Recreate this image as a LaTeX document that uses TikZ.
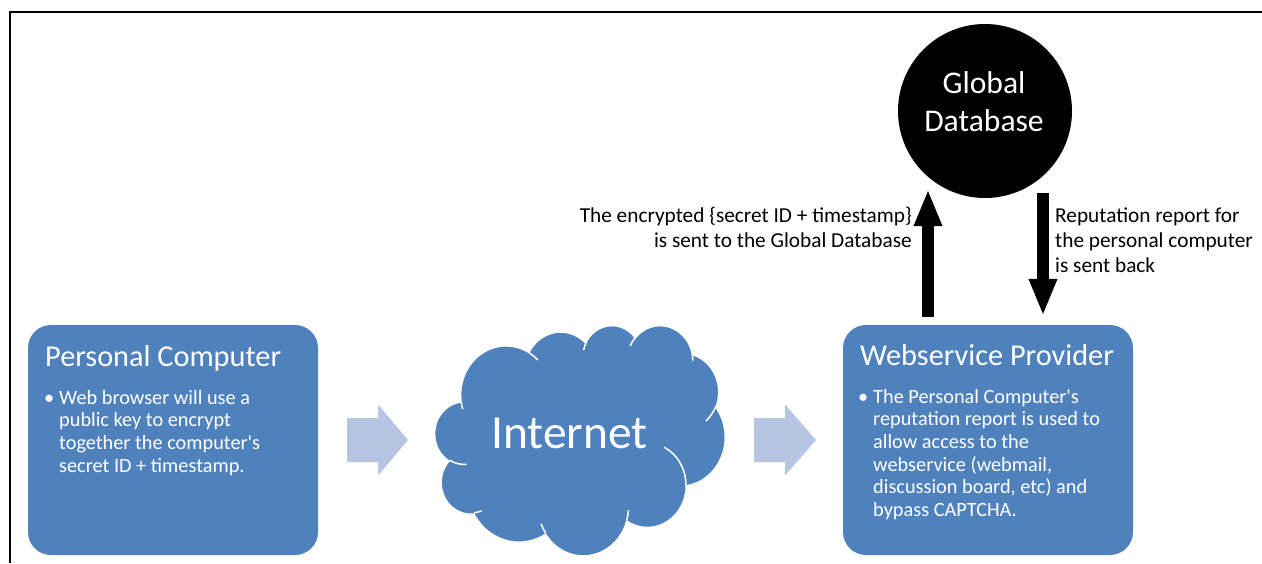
\documentclass[tikz,border=0pt]{standalone}
\usepackage{fontspec}
\setmainfont{Carlito}
\usetikzlibrary{arrows.meta}
\definecolor{accent}{RGB}{79,129,189}
\definecolor{lightflow}{RGB}{181,197,226}

\begin{document}
\begin{tikzpicture}[x=1pt,y=-1pt,
  panel/.style={fill=accent, draw=none, rounded corners=23pt,
    minimum width=290pt, minimum height=230pt, inner sep=0pt},
  paneltitle/.style={anchor=base west, inner sep=0pt, text=white,
    font=\fontsize{30.3}{34}\selectfont},
  paneltext/.style={anchor=north west, inner sep=0pt, text=white, align=left,
    font=\fontsize{20.3}{22.7}\selectfont},
  bulletmark/.style={anchor=base west, inner sep=0pt, text=white,
    font=\fontsize{20.3}{22.7}\selectfont},
  note/.style={inner sep=0pt, font=\fontsize{21.3}{25}\selectfont},
  blockarrow/.style={fill=lightflow, draw=none},
  bigarrow/.style={line width=12pt, -{Triangle[length=37pt,width=26pt]}},
  % elliptical arc given by radii, start angle and sweep measured as
  % direction angles (converted to the parametric angles TikZ expects)
  ooarc/.style n args={4}{insert path={
    arc[x radius=#1, y radius=#2,
        start angle={atan2((#1)*sin(#3),(#2)*cos(#3))},
        delta angle={mod(atan2((#1)*sin(#3+#4),(#2)*cos(#3+#4))
                     -atan2((#1)*sin(#3),(#2)*cos(#3))+720,360)}]}}
]
\useasboundingbox (0,0) rectangle (1262,563);

% frame edges
\draw[line width=2.5pt] (1262,12) -- (10,12) -- (10,563);

% left panel
\node[panel] (pc) at (173,440) {};
\node[paneltitle] (pctitle) at (45,366) {Personal Computer};
\node[bulletmark] (pcbullet) at (44,404) {•};
\node[paneltext] (pctext) at (59,388.1) {\strut Web browser will use a\\
  public key to encrypt\\
  together the computer\textquotesingle s\\
  secret ID + timestamp.};

% right panel
\node[panel] (ws) at (988,440) {};
\node[paneltitle] (wstitle) at (860,365) {Webservice Provider};
\node[bulletmark] (wsbullet) at (858,403) {•};
\node[paneltext] (wstext) at (873,387.1) {\strut The Personal Computer\textquotesingle s\\
  reputation report is used to\\
  allow access to the\\
  webservice (webmail,\\
  discussion board, etc) and\\
  bypass CAPTCHA.};

% cloud
\begin{scope}[shift={(435,325)}, x=0.671296pt, y=-0.532407pt]
  \path[fill=accent, draw=white, line width=1.2pt] (39.00,143.70)
    [ooarc={67.53}{91.90}{-190.4875}{123.7805}]
    [ooarc={53.33}{72.67}{-144.1024}{89.9452}]
    [ooarc={43.65}{59.45}{-145.8079}{99.7230}]
    [ooarc={48.57}{65.95}{-130.9861}{117.2417}]
    [ooarc={53.33}{72.73}{-78.7089}{109.0269}]
    [ooarc={67.75}{92.20}{-46.2673}{130.2690}]
    [ooarc={57.85}{78.67}{0.6250}{114.0333}]
    [ooarc={67.52}{92.15}{22.4516}{115.1726}]
    [ooarc={77.20}{105.43}{66.2426}{75.7110}]
    [ooarc={43.60}{59.18}{-274.9421}{146.7356}]
    [ooarc={43.45}{59.45}{-246.8285}{152.5189}]
    -- cycle;
  \draw[white, line width=1.5pt]
    (46.93,261.77) [ooarc={43.45}{59.45}{86.7420}{26.4295}]
    (69.28,348.99) [ooarc={43.60}{59.18}{73.6105}{11.4475}]
    (164.78,390.90) [ooarc={67.52}{92.15}{137.6242}{14.0811}]
    (288.27,347.51) [ooarc={67.52}{92.15}{6.4533}{15.9984}]
    (341.29,229.54) [ooarc={57.85}{78.67}{-70.2924}{70.9174}]
    (417.98,153.54) [ooarc={53.33}{72.73}{30.3180}{27.7515}]
    (383.24,54.26) [ooarc={48.57}{65.95}{-13.7443}{14.8589}]
    (290.78,39.52) [ooarc={48.57}{65.95}{-149.1815}{18.1954}]
    (221.41,47.20) [ooarc={43.65}{59.45}{-163.4943}{17.6864}]
    (140.00,51.92) [ooarc={67.53}{91.90}{-66.7070}{12.3194}]
    (41.27,157.89) [ooarc={67.53}{91.90}{157.6544}{11.8582}];
\end{scope}
\node[anchor=base, inner sep=0pt, text=white,
  font=\fontsize{47.5}{50}\selectfont] (internet) at (569.5,448) {Internet};

% flow arrows between panels
\fill[blockarrow] (347,418) -- (378,418) -- (378,404.5) -- (408,440)
  -- (378,475.5) -- (378,462) -- (347,462) -- cycle;
\fill[blockarrow] (754,418) -- (785,418) -- (785,404.5) -- (816,440)
  -- (785,475.5) -- (785,462) -- (754,462) -- cycle;

% database
\node[circle, fill=black, minimum size=174pt, inner sep=0pt] (db) at (985,111) {};
\node[anchor=north, inner sep=0pt, text=white, align=center,
  font=\fontsize{31.6}{38}\selectfont] (dbtext) at (984,66.4) {\strut Global\\Database};

% request and reply
\coordinate (upS) at ([xshift=-60pt,yshift=8pt]ws.north);
\coordinate (upE) at ([xshift=-57pt,yshift=9pt]db.south);
\coordinate (dnS) at ([xshift=58pt,yshift=5pt]db.south);
\coordinate (dnE) at ([xshift=55pt,yshift=9pt]ws.north);
\draw[bigarrow] (upS) -- (upE);
\draw[bigarrow] (dnS) -- (dnE);

\node[note, anchor=north east, align=right] (sendnote) at (912,204.5)
  {\strut The encrypted \{secret ID + timestamp\}\\ is sent to the Global Database};
\node[note, anchor=north west, align=left] (backnote) at (1055,204.5)
  {\strut Reputation report for\\the personal computer\\is sent back};
\end{tikzpicture}
\end{document}
